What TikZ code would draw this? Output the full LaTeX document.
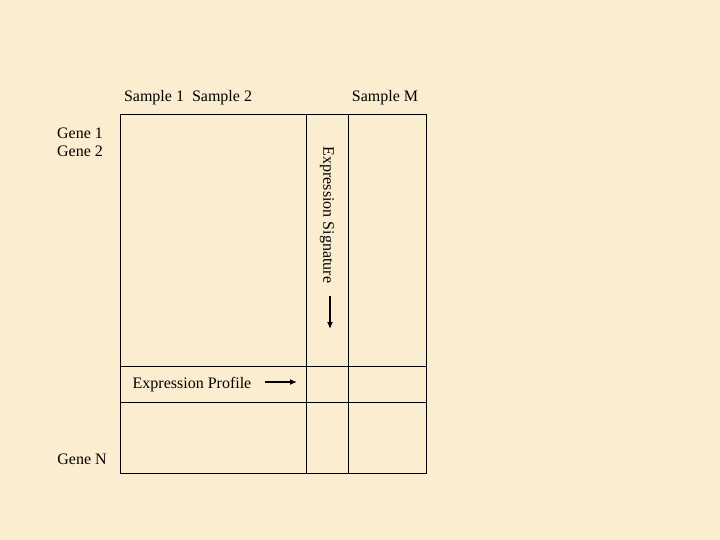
\documentclass[tikz,border=0pt]{standalone}
\usepackage{fontspec}
\setmainfont{Liberation Serif}
\usepackage{xcolor}
\usetikzlibrary{positioning,arrows.meta}
\definecolor{parchment}{RGB}{251,238,208}

\begin{document}
\begin{tikzpicture}[x=1pt,y=-1pt,
    label/.style={inner sep=0pt, font=\fontsize{16}{18}\selectfont},
    grid/.style={line width=1pt},
    pointer/.style={line width=1.6pt, -{Latex[length=7pt,width=6pt]}}]
      % Background
      \fill[parchment] (0,0) rectangle (720,540);
      \useasboundingbox (0,0) rectangle (720,540);

      % Table
      \coordinate (tl) at (120,115);
      \coordinate (br) at (426,473);
      \draw[grid] (tl) rectangle (br);
      \draw[grid] (306,115) -- (306,473);
      \draw[grid] (348,115) -- (348,473);
      \draw[grid] (120,366) -- (426,366);
      \draw[grid] (120,402) -- (426,402);

      % Nodes
      \node (s12) [label] at (188,98) {Sample 1\ \ Sample 2};
      \node (sM) [label] at (385,98) {Sample M};
      \node (g1) [label] at (80,133) {Gene 1};
      \node (g2) [label, below=7pt of g1] {Gene 2};
      \node (gN) [label] at (82,459) {Gene N};
      \node (prof) [label] at (192,385) {Expression Profile};
      \node (sig) [label, rotate=-90] at (327,215) {Expression Signature};
      \coordinate (pa) at (265,382);
      \coordinate (pb) at (297,382);
      \coordinate (sa) at (330,296);
      \coordinate (sb) at (330,329);

      % Arrows
      \draw[pointer] (pa) -- (pb);
      \draw[pointer] (sa) -- (sb);
  \end{tikzpicture}
\end{document}
